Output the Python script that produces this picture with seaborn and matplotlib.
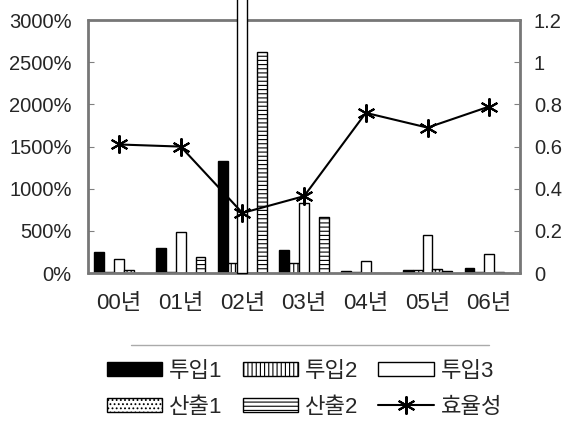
import numpy as np
import pandas as pd
import matplotlib
matplotlib.use("Agg")
import matplotlib.pyplot as plt
import seaborn as sns
from matplotlib.patches import Patch
from matplotlib.lines import Line2D

# chart data (percent for bars, ratio for the line)
years = ["00년", "01년", "02년", "03년", "04년", "05년", "06년"]
series = ["투입1", "투입2", "투입3", "산출1", "산출2"]
input1 = [250, 300, 1330, 270, 20, 35, 60]
input2 = [10, 10, 120, 120, 15, 40, 10]
input3 = [170, 490, 3300, 830, 145, 450, 225]
output1 = [40, 5, 0, 5, 5, 50, 10]
output2 = [5, 190, 2620, 660, 5, 20, 5]
efficiency = [0.61, 0.60, 0.285, 0.365, 0.76, 0.69, 0.79]

colors = ["black", "white", "white", "white", "white"]
hatches = ["", "||||", "", "....", "----"]

sns.set_style("white")
plt.rcParams['font.family'] = ['Liberation Sans', 'Noto Sans CJK KR']
plt.rcParams['hatch.linewidth'] = 0.8

df = pd.DataFrame({
    "year": years * 5,
    "series": np.repeat(series, len(years)),
    "value": input1 + input2 + input3 + output1 + output2,
})

fig = plt.figure(figsize=(5.69, 4.28), dpi=100)
ax = fig.add_axes([0.155, 0.362, 0.759, 0.591])
sns.barplot(data=df, x="year", y="value", hue="series", hue_order=series,
            palette=colors, edgecolor="black", linewidth=1, ax=ax, legend=False)

for cont, h in zip(ax.containers, hatches):
    for p in cont:
        p.set_hatch(h)

ax.set_ylim(0, 3000)
ax.set_yticks(range(0, 3001, 500))
ax.set_yticklabels([f"{v}%" for v in range(0, 3001, 500)])
ax.set_xlabel("")
ax.set_ylabel("")
ax.tick_params(axis="y", direction="in", length=4, color="gray", labelsize=14.5, pad=12)
ax.tick_params(axis="x", length=0, labelsize=16, pad=14)
for side in ["left", "right"]:
    ax.spines[side].set_color("#777777")
    ax.spines[side].set_linewidth(2)
for side in ["top", "bottom"]:
    ax.spines[side].set_visible(False)
# horizontal frame edges
ax.axhline(3000, color="#777777", lw=2, zorder=4, clip_on=False)
ax.axhline(0, color="#777777", lw=2, zorder=4, clip_on=False)

# the 02년 투입3 bar runs off the top of the chart
big = ax.containers[2][2]
big.set_clip_on(False)
big.set_zorder(5)

ax2 = ax.twinx()
ax2.plot(range(len(years)), efficiency, color="black", lw=1.5,
         marker=(6, 2, 0), markersize=13, markeredgewidth=1.5)
ax2.set_ylim(0, 1.2)
ticks2 = [0, 0.2, 0.4, 0.6, 0.8, 1.0, 1.2]
ax2.set_yticks(ticks2)
ax2.set_yticklabels(["0", "0.2", "0.4", "0.6", "0.8", "1", "1.2"])
ax2.tick_params(axis="y", direction="in", length=4, color="gray", labelsize=14.5, pad=10)
for s in ax2.spines.values():
    s.set_visible(False)
ax.set_xlim(-0.5, len(years) - 0.5)

handles = [
    Patch(facecolor="black", edgecolor="black", label="투입1"),
    Patch(facecolor="white", edgecolor="black", hatch="....", label="산출1"),
    Patch(facecolor="white", edgecolor="black", hatch="||||", label="투입2"),
    Patch(facecolor="white", edgecolor="black", hatch="----", label="산출2"),
    Patch(facecolor="white", edgecolor="black", label="투입3"),
    Line2D([], [], color="black", lw=1.5, marker=(6, 2, 0), markersize=13,
           markeredgewidth=1.5, label="효율성"),
]
fig.legend(handles=handles, ncol=3, loc="center", bbox_to_anchor=(0.535, 0.09),
           frameon=False, fontsize=16, handlelength=2.5, handleheight=0.6,
           handletextpad=0.3, columnspacing=0.9, labelspacing=0.65)

fig.add_artist(Line2D([0.23, 0.86], [0.195, 0.195], color="#aaaaaa", lw=1))

fig.savefig("out.png", dpi=100)
